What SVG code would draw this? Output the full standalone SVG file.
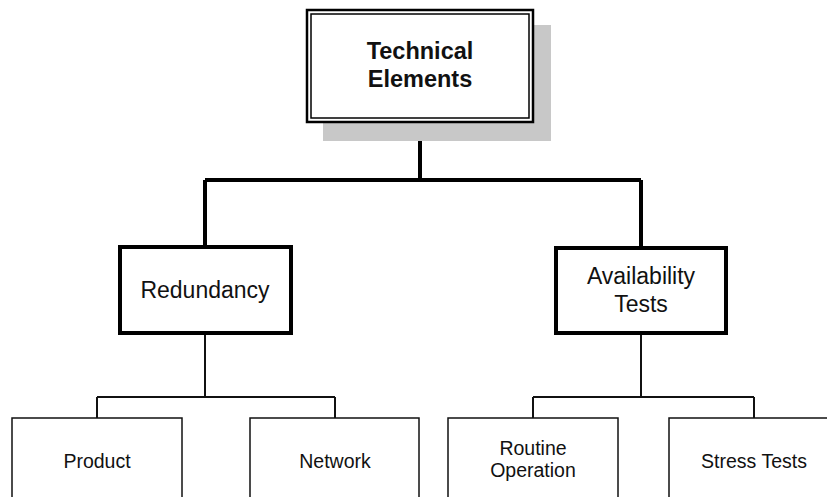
<svg xmlns="http://www.w3.org/2000/svg" width="827" height="497" viewBox="0 0 827 497">
<style>
text{font-family:"Liberation Sans",Arial,sans-serif;fill:#111;text-anchor:middle}
.t{font-size:23.5px;font-weight:bold}
.m{font-size:23px}
.s{font-size:19.5px}
.thick{fill:none;stroke:#000;stroke-width:4}
.thin{fill:none;stroke:#111;stroke-width:2}
.box2{fill:#fff;stroke:#000;stroke-width:4}
.box3{fill:#fff;stroke:#111;stroke-width:1.5}
</style>
<rect width="827" height="497" fill="#fff"/>
<g id="connectors">
<path class="thick" d="M420 123V180M205 180H641M205 180V247M641 180V247"/>
<path class="thin" d="M205 334V397M97 397H335M97 397V418M335 397V418"/>
<path class="thin" d="M641 333V397M533 397H754M533 397V418M754 397V418"/>
</g>
<g id="technical-elements">
<rect x="323" y="25" width="228" height="116" fill="#c8c8c8"/>
<rect x="307" y="10" width="226" height="112" fill="#fff" stroke="#000" stroke-width="2.5"/>
<rect x="311" y="14" width="218" height="104" fill="none" stroke="#000" stroke-width="1.5"/>
<text class="t" x="420" y="59">Technical</text>
<text class="t" x="420" y="87">Elements</text>
</g>
<g id="redundancy">
<rect class="box2" x="120" y="247" width="171" height="86"/>
<text class="m" x="205" y="298">Redundancy</text>
</g>
<g id="availability-tests">
<rect class="box2" x="556" y="248" width="170" height="85"/>
<text class="m" x="641" y="284">Availability</text>
<text class="m" x="641" y="312">Tests</text>
</g>
<g id="product">
<rect class="box3" x="12" y="418" width="170" height="90"/>
<text class="s" x="97" y="468">Product</text>
</g>
<g id="network">
<rect class="box3" x="250" y="418" width="169" height="90"/>
<text class="s" x="335" y="468">Network</text>
</g>
<g id="routine-operation">
<rect class="box3" x="448" y="418" width="170" height="90"/>
<text class="s" x="533" y="455">Routine</text>
<text class="s" x="533" y="477">Operation</text>
</g>
<g id="stress-tests">
<rect class="box3" x="669" y="418" width="170" height="90"/>
<text class="s" x="754" y="468">Stress Tests</text>
</g>
</svg>
